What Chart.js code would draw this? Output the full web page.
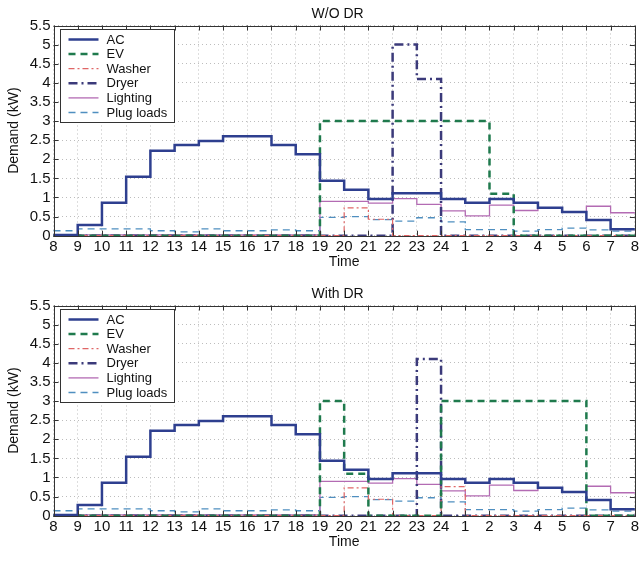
<!DOCTYPE html>
<html><head><meta charset="utf-8">
<script src="https://cdn.jsdelivr.net/npm/chart.js@4.4.1/dist/chart.umd.min.js"></script>
<style>
html,body{margin:0;padding:0;background:#fff;}
.wrap{position:absolute;left:0;width:643px;height:280px;}
</style></head><body>
<div class="wrap" style="top:0"><canvas id="c1"></canvas></div>
<div class="wrap" style="top:280px"><canvas id="c2"></canvas></div>
<script>
// ---- data ----
const hourLabels = [8,9,10,11,12,13,14,15,16,17,18,19,20,21,22,23,24,1,2,3,4,5,6,7,8];
const seriesNames = ['AC','EV','Washer','Dryer','Lighting','Plug loads'];
const chartTitles = ['W/O DR','With DR'];

const acLoad       = [0.02,0.28,0.86,1.54,2.22,2.37,2.48,2.6,2.6,2.37,2.13, 1.44,1.2,0.96,1.11,1.11, 0.96,0.86,0.96,0.86,0.73,0.62,0.41,0.17];
const lightingLoad = [0.02,0.02,0.02,0.02,0.02,0.02,0.02,0.02,0.02,0.02,0.02, 0.9,0.9,0.85,0.97,0.82, 0.65,0.52,0.8,0.66,0.73,0.62,0.77,0.6];
const plugLoad     = [0.13,0.18,0.18,0.18,0.13,0.1,0.18,0.13,0.13,0.15,0.13, 0.48,0.5,0.42,0.38,0.47, 0.36,0.16,0.16,0.12,0.16,0.2,0.15,0.12];

const evNoDR       = [0,0,0,0,0,0,0,0,0,0,0, 3,3,3,3,3, 3,3,1.1,0,0,0,0,0];
const washerNoDR   = [0,0,0,0,0,0,0,0,0,0,0, 0,0.73,0.43,0,0, 0,0,0,0,0,0,0,0];
const dryerNoDR    = [0,0,0,0,0,0,0,0,0,0,0, 0,0,0,5.0,4.1, 0,0,0,0,0,0,0,0];

const evDR         = [0,0,0,0,0,0,0,0,0,0,0, 3,1.1,0,0,0, 3,3,3,3,3,3,0,0];
const washerDR     = [0,0,0,0,0,0,0,0,0,0,0, 0,0.73,0.43,0,0, 0.76,0,0,0,0,0,0,0];
const dryerDR      = [0,0,0,0,0,0,0,0,0,0,0, 0,0,0,0,4.1, 0,0,0,0,0,0,0,0];

// ---- styling ----
const FONT = '"Liberation Sans", Arial, Helvetica, sans-serif';
Chart.defaults.font.family = FONT;
Chart.defaults.color = '#111';

const styles = [
  {borderColor:'#2e3f8f', borderWidth:2.5, borderDash:[]},
  {borderColor:'#1f7a4d', borderWidth:2.5, borderDash:[7,5]},
  {borderColor:'#e06666', borderWidth:1.2, borderDash:[6,3,2,3]},
  {borderColor:'#3b3a7a', borderWidth:2.5, borderDash:[9,4,2,4]},
  {borderColor:'#b36bb3', borderWidth:1.3, borderDash:[]},
  {borderColor:'#4f8fc0', borderWidth:1.3, borderDash:[7,5]}
];

function toPoints(vals){
  const pts = vals.map((v,i)=>({x:i, y:v}));
  pts.push({x:vals.length, y:vals[vals.length-1]});
  return pts;
}

const framePlugin = {
  id:'frame',
  afterDraw(chart, args, opts){
    const {ctx, chartArea:a, scales:{x,y}} = chart;
    ctx.save();
    ctx.setLineDash([]);
    ctx.strokeStyle = '#333';
    ctx.lineWidth = 1;
    ctx.beginPath();
    x.ticks.forEach(t=>{
      const px = Math.round(x.getPixelForValue(t.value))+0.5;
      ctx.moveTo(px,a.bottom); ctx.lineTo(px,a.bottom-5);
      ctx.moveTo(px,a.top); ctx.lineTo(px,a.top+5);
    });
    y.ticks.forEach(t=>{
      const py = Math.round(y.getPixelForValue(t.value))+0.5;
      ctx.moveTo(a.left,py); ctx.lineTo(a.left+5,py);
      ctx.moveTo(a.right,py); ctx.lineTo(a.right-5,py);
    });
    ctx.stroke();
    ctx.strokeRect(Math.round(a.left)+0.5, Math.round(a.top)+0.5, Math.round(a.right-a.left), Math.round(a.bottom-a.top));

    // title
    ctx.fillStyle = '#111';
    ctx.font = '14px ' + FONT;
    ctx.textAlign = 'center';
    ctx.textBaseline = 'middle';
    ctx.fillText(opts.title, (a.left+a.right)/2 - 6.5, a.top - 11.5);

    // legend box
    const bx = Math.round(a.left)+6.5, by = Math.round(a.top)+3.5, bw = 114, bh = 93;
    ctx.fillStyle = '#fff';
    ctx.fillRect(bx,by,bw,bh);
    ctx.strokeStyle = '#333';
    ctx.lineWidth = 1;
    ctx.strokeRect(bx,by,bw,bh);
    ctx.font = '13px ' + FONT;
    ctx.textBaseline = 'middle';
    ctx.textAlign = 'left';
    chart.data.datasets.forEach((ds,i)=>{
      const ry = by + 10 + i*14.6;
      ctx.save();
      ctx.strokeStyle = ds.borderColor;
      ctx.lineWidth = ds.borderWidth;
      ctx.setLineDash(ds.borderDash||[]);
      ctx.beginPath(); ctx.moveTo(bx+8,ry); ctx.lineTo(bx+38,ry); ctx.stroke();
      ctx.restore();
      ctx.fillStyle = '#111';
      ctx.fillText(ds.label, bx+46, ry+0.5);
    });
    ctx.restore();
  }
};

function makeChart(id, title, seriesList){
  const datasets = seriesList.map((vals,i)=>Object.assign({
    label: seriesNames[i],
    data: toPoints(vals),
    stepped: 'before',
    pointRadius: 0,
    fill: false,
    clip: 4
  }, styles[i]));
  return new Chart(document.getElementById(id), {
    type:'line',
    data:{datasets},
    plugins:[framePlugin],
    options:{
      responsive:true, maintainAspectRatio:false, animation:false,
      devicePixelRatio:1,
      layout:{padding:{left:2,right:5,top:0,bottom:0}},
      plugins:{
        legend:{display:false},
        tooltip:{enabled:false},
        title:{display:false},
        frame:{title:title}
      },
      scales:{
        x:{
          type:'linear', min:0, max:24,
          afterFit(s){ s.height = 44.3; },
          ticks:{stepSize:1, autoSkip:false, maxRotation:0, padding:4, color:'#111',
            font:{size:15, lineHeight:1},
            callback:(v)=>hourLabels[v]},
          grid:{color:'#bdbdbd', lineWidth:1, drawTicks:false},
          border:{display:false, dash:[1,3]},
          title:{display:true, text:'Time', color:'#111', font:{size:14}, padding:{top:0,bottom:9}}
        },
        xTop:{
          type:'linear', position:'top', min:0, max:24,
          afterFit(s){ s.height = 25.5; },
          ticks:{display:false},
          grid:{display:false, drawTicks:false},
          border:{display:false},
          title:{display:false}
        },
        y:{
          min:0, max:5.5,
          afterFit(s){ s.width = 51.5; },
          ticks:{stepSize:0.5, padding:3, color:'#111', font:{size:15, lineHeight:1},
            callback:(v)=>String(Math.round(v*10)/10)},
          grid:{color:'#bdbdbd', lineWidth:1, drawTicks:false},
          border:{display:false, dash:[1,3]},
          title:{display:true, text:'Demand (kW)', color:'#111', font:{size:14}, padding:{top:3.6,bottom:0}}
        }
      }
    }
  });
}

makeChart('c1', chartTitles[0], [acLoad, evNoDR, washerNoDR, dryerNoDR, lightingLoad, plugLoad]);
makeChart('c2', chartTitles[1], [acLoad, evDR, washerDR, dryerDR, lightingLoad, plugLoad]);
</script></body></html>
